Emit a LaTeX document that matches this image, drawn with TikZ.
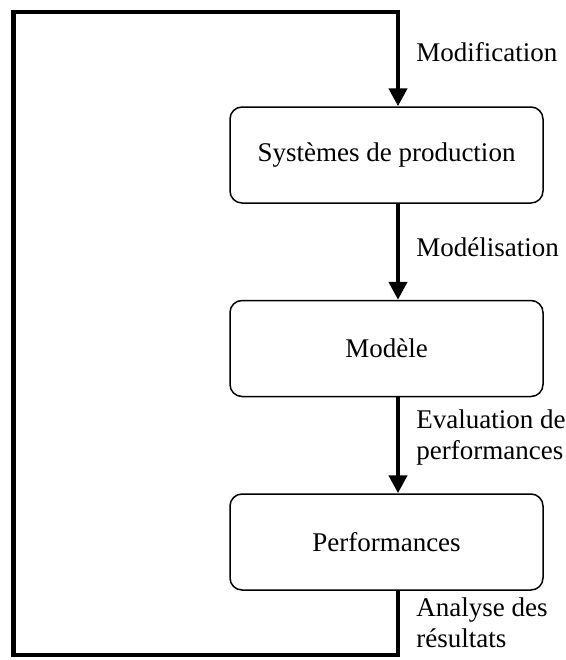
\documentclass[tikz,border=0pt]{standalone}
\usepackage{fontspec}
\setmainfont{Liberation Serif}
\usetikzlibrary{positioning,arrows.meta}
\tikzset{
  etape/.style={draw,rounded corners=6pt,line width=0.75pt,minimum width=156.5pt,minimum height=48pt,font=\fontsize{13.5}{15.5}\selectfont},
  fleche/.style={line width=2.2pt,line join=miter,-{Triangle[width=9pt,length=9pt]}},
  legende/.style={anchor=west,inner sep=0pt,align=left,font=\fontsize{13.5}{15.5}\selectfont}
}
\begin{document}
\begin{tikzpicture}[x=0.5pt,y=-0.5pt]
 \useasboundingbox (0,0) rectangle (566,660);
 \node[etape] (sys) at (386.5,155) {Systèmes de production};
 \node[etape,below=48pt of sys] (mod) {Modèle};
 \node[etape,below=48pt of mod] (perf) {Performances};
 \coordinate (axe) at (398,0);
 \coordinate (hg) at (13.5,12);
 \coordinate (bg) at (13.5,655);
 % boucle de retour
 \draw[fleche] (perf.south -| axe) -- (bg -| axe) -- (bg) -- (hg) -- (hg -| axe) -- (sys.north -| axe);
 \draw[fleche] (sys.south -| axe) -- (mod.north -| axe);
 \draw[fleche] (mod.south -| axe) -- (perf.north -| axe);
 % etiquettes
 \node[legende] (l1) at (416,52) {Modification};
 \node[legende] (l2) at (416,247) {Modélisation};
 \node[legende] (l3) at (416,437) {Evaluation de\\performances};
 \node[legende] (l4) at (416,623) {Analyse des\\résultats};
\end{tikzpicture}
\end{document}
